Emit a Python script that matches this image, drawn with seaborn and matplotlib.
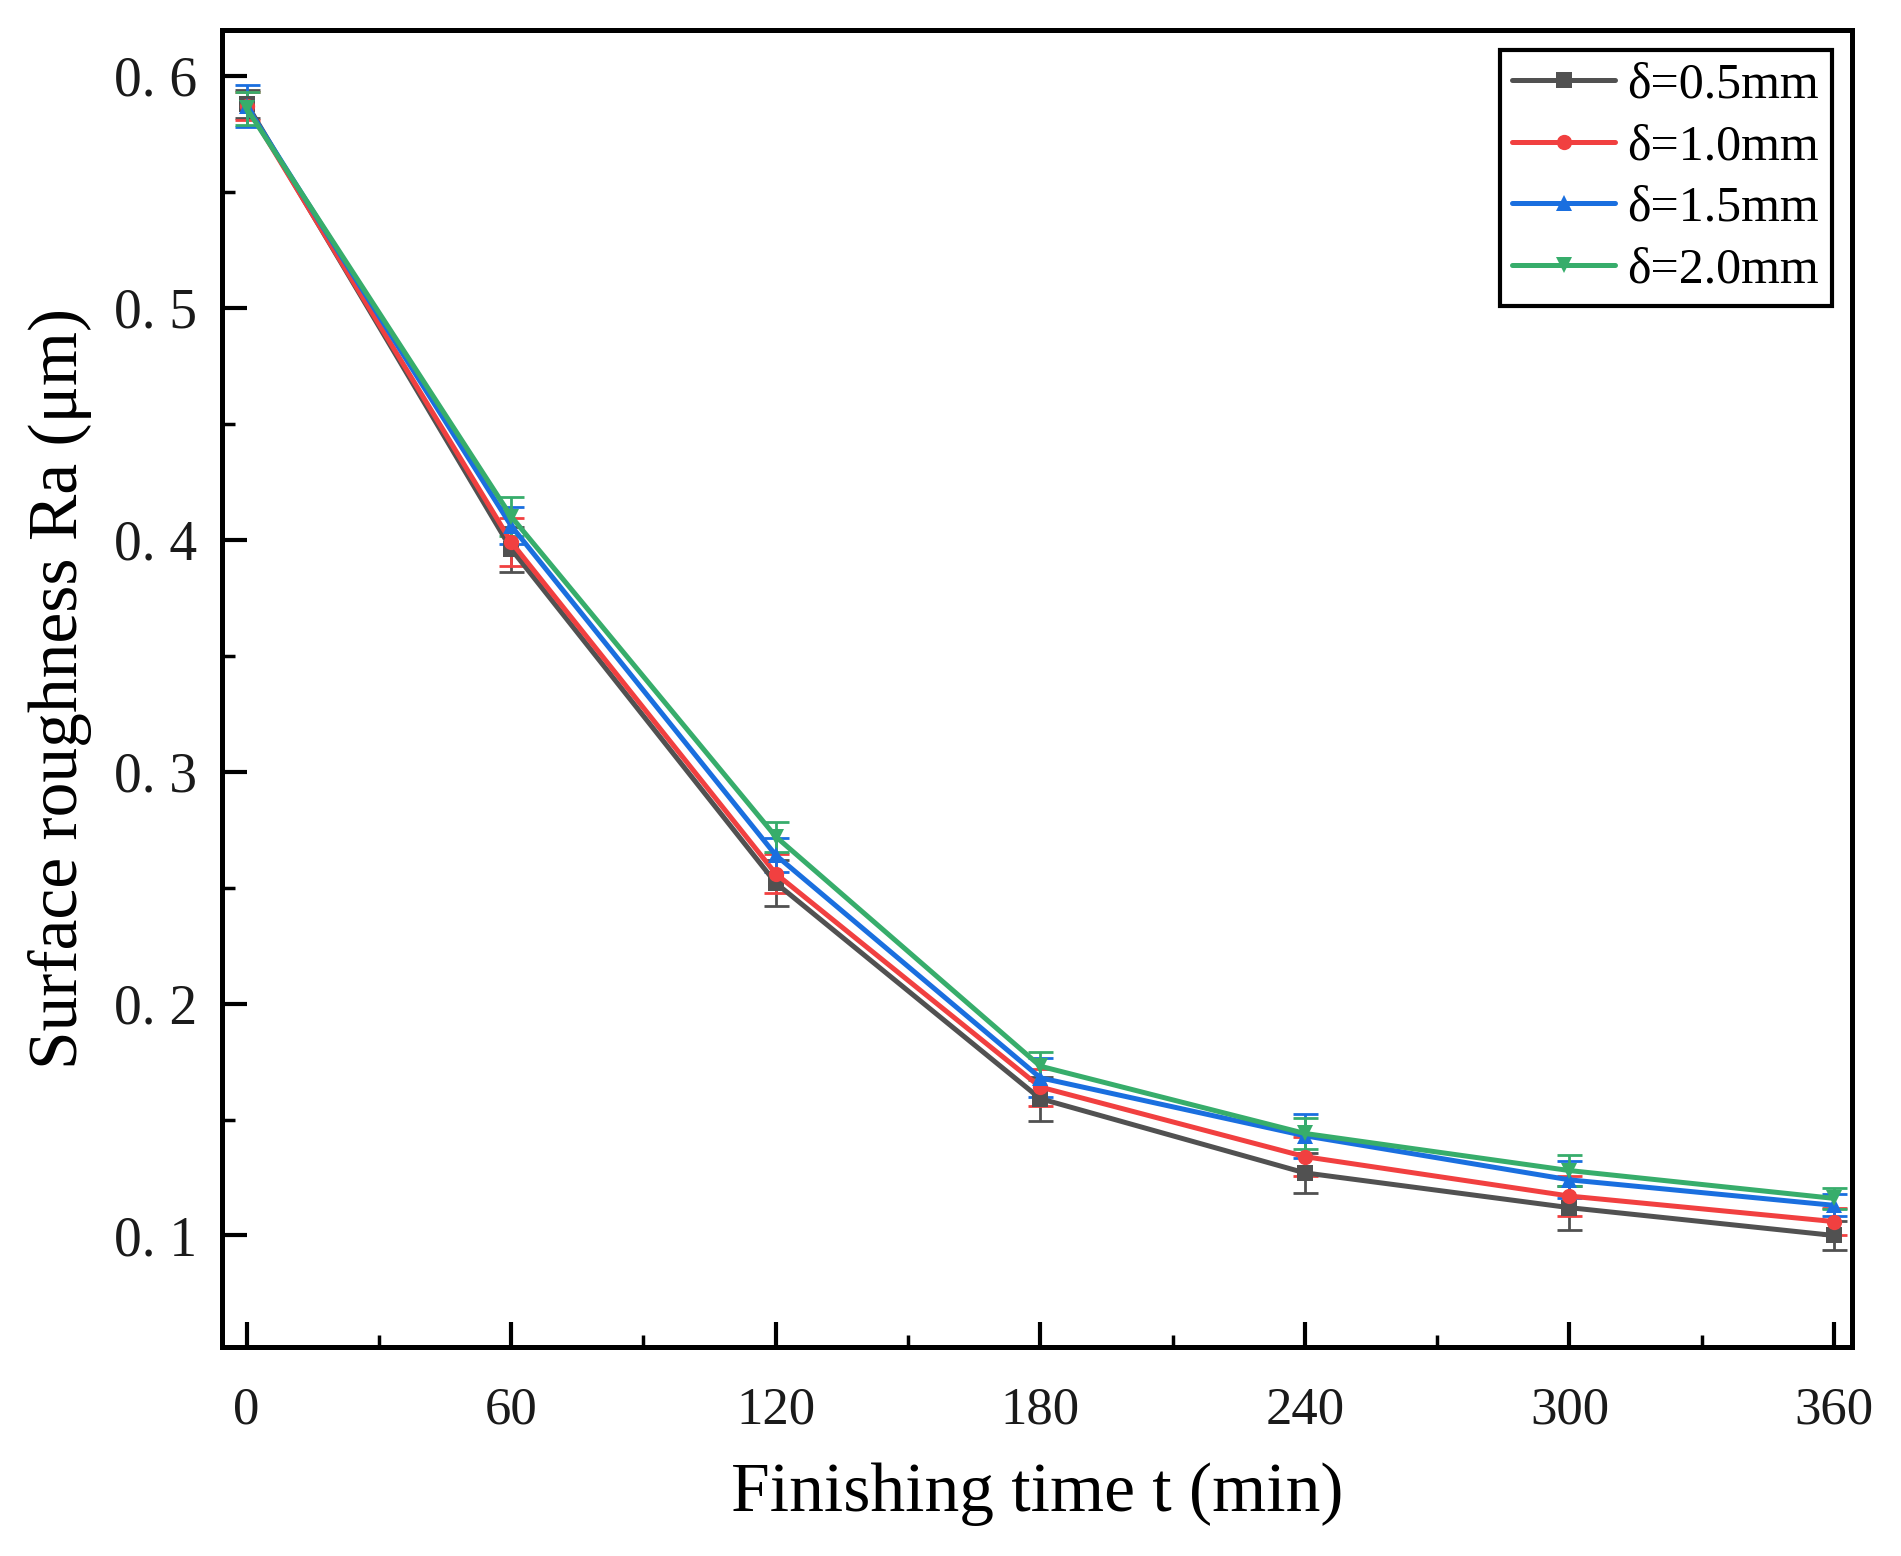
import numpy as np
import pandas as pd
import matplotlib
matplotlib.use("Agg")
import matplotlib.pyplot as plt
from matplotlib.ticker import MultipleLocator, FuncFormatter
import seaborn as sns

# ---- data ----
time_min = [0, 60, 120, 180, 240, 300, 360]
series_labels = ["δ=0.5mm", "δ=1.0mm", "δ=1.5mm", "δ=2.0mm"]
ra_05 = [0.588, 0.396, 0.252, 0.159, 0.127, 0.112, 0.100]
ra_10 = [0.587, 0.399, 0.256, 0.164, 0.134, 0.117, 0.106]
ra_15 = [0.587, 0.406, 0.264, 0.168, 0.143, 0.124, 0.113]
ra_20 = [0.586, 0.410, 0.272, 0.173, 0.144, 0.128, 0.116]
err_05 = [0.006, 0.0097, 0.010, 0.0095, 0.0087, 0.0095, 0.0063]
err_10 = [0.006, 0.0104, 0.0085, 0.008, 0.0085, 0.0085, 0.006]
err_15 = [0.009, 0.0080, 0.0074, 0.0085, 0.0095, 0.008, 0.0047]
err_20 = [0.007, 0.0085, 0.0065, 0.006, 0.0065, 0.0065, 0.0045]

colors = ["#515151", "#F14040", "#1A6FDF", "#37AD6B"]
markers = ["s", "o", "^", "v"]

sns.set_theme(style="white")
plt.rcParams["font.family"] = ["Liberation Serif", "DejaVu Serif"]
plt.rcParams["mathtext.fontset"] = "stix"

fig = plt.figure(figsize=(19.01, 15.56), dpi=100)
ax = fig.add_axes([0.117, 0.134, 0.857, 0.847])

all_vals = [ra_05, ra_10, ra_15, ra_20]
all_errs = [err_05, err_10, err_15, err_20]
for lab, vals, errs, c, m in zip(series_labels, all_vals, all_errs, colors, markers):
    df = pd.DataFrame({"t": time_min, "ra": vals})
    ax.errorbar(df["t"], df["ra"], yerr=errs, fmt="none", ecolor=c,
                elinewidth=2.0, capsize=9, capthick=2.0, zorder=2)
    sns.lineplot(data=df, x="t", y="ra", ax=ax, color=c, marker=m,
                 markersize=11, markeredgewidth=0, linewidth=3.6,
                 label=lab, zorder=3)

ax.set_xlim(-5.5, 364)
ax.set_ylim(0.0517, 0.620)
ax.xaxis.set_major_locator(MultipleLocator(60))
ax.xaxis.set_minor_locator(MultipleLocator(30))
ax.yaxis.set_major_locator(MultipleLocator(0.1))
ax.yaxis.set_minor_locator(MultipleLocator(0.05))
ax.yaxis.set_major_formatter(FuncFormatter(lambda v, p: f"{v:.1f}".replace(".", ". ")))

ax.tick_params(axis="both", which="major", direction="in", length=18, width=3,
               color="black", labelcolor="#1a1a1a")
ax.tick_params(axis="both", which="minor", direction="in", length=9, width=2.5,
               color="black")
ax.tick_params(axis="x", which="major", pad=28, labelsize=38)
ax.tick_params(axis="y", which="major", pad=18, labelsize=40)
ax.tick_params(left=True, bottom=True, top=False, right=False)
ax.tick_params(which="minor", left=True, bottom=True, top=False, right=False)

for s in ax.spines.values():
    s.set_linewidth(3.6)
    s.set_color("black")

ax.set_xlabel("Finishing time t (min)", fontsize=50, labelpad=20, color="black")
ax.set_ylabel("Surface roughness Ra (μm)", fontsize=50, labelpad=16, color="black")
ax.grid(False)

leg = ax.legend(loc="upper right", fontsize=36, frameon=True, fancybox=False,
                framealpha=1, handlelength=2.05, handletextpad=0.25,
                borderaxespad=0.4, borderpad=0.25, labelspacing=0.3)
leg.get_frame().set_edgecolor("black")
leg.get_frame().set_linewidth(3)
for t in leg.get_texts():
    t.set_color("black")

fig.savefig("out.png", dpi=100, facecolor="white")
